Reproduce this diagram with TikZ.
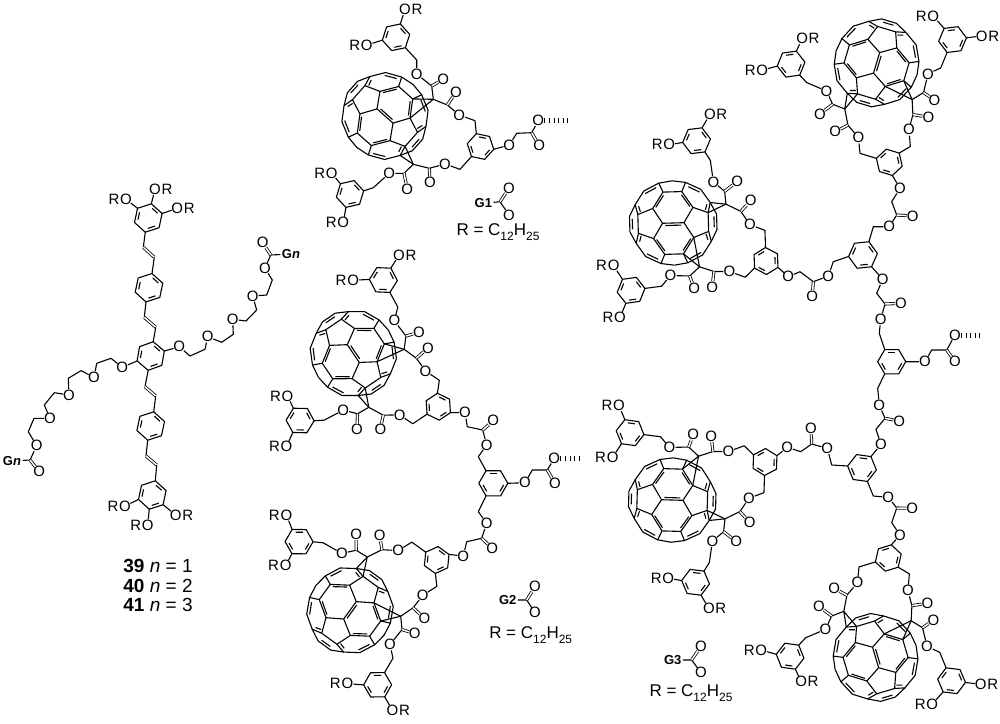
\documentclass[tikz,border=0pt]{standalone}
\usepackage{fontspec}
\setmainfont{Liberation Sans}
\usetikzlibrary{positioning}
\tikzset{
	atom/.style={circle, inner sep=-1.7pt, font=\fontsize{15}{15}\selectfont},
	rlab/.style={inner sep=0pt, font=\fontsize{15}{15}\selectfont},
	dbond/.style={double, double distance=1.5pt, line width=.8pt},
	hashb/.style={line width=5pt, line cap=butt, dash pattern=on 1pt off 3.6pt},
	glab/.style={inner sep=1pt, font=\bfseries\fontsize{13}{13}\selectfont},
	rtxt/.style={inner sep=0pt, font=\fontsize{17}{17}\selectfont},
	numlab/.style={inner sep=0pt, font=\fontsize{19}{19}\selectfont}
}
\newcommand{\rchain}{R = C\raisebox{-.3em}{\fontsize{12}{12}\selectfont 12}H\raisebox{-.3em}{\fontsize{12}{12}\selectfont 25}}
% ring: name, x, y, phase, radius
\newcommand{\bzring}[5]{
	\begin{scope}[shift={(#2,#3)}]
		\foreach \k in {0,...,5} \coordinate (#1\k) at ({#4+60*\k}:#5);
		\draw (#10) -- (#11) -- (#12) -- (#13) -- (#14) -- (#15) -- cycle;
		\foreach \k in {0,2,4} \draw ({#4+60*\k+9}:{#5*.72}) -- ({#4+60*\k+51}:{#5*.72});
	\end{scope}
}
% fullerene: x, y, rotation
\newcommand{\cball}[3]{
	\begin{scope}[shift={(#1,#2)},rotate=#3,scale=.335]
		\foreach \sx in {1,-1} \foreach \sy in {1,-1} {
			\begin{scope}[xscale=\sx,yscale=\sy]
				\draw (32,0) -- (60,45) -- (28,93) -- (40,120) -- (0,126);
				\draw (28,93) -- (0,93);
				\draw (60,45) -- (105,28) -- (112,58) -- (85,98) -- (40,120);
				\draw (105,28) -- (105,0);
				\draw (112,58) -- (130,23) -- (130,0);
				\draw (51,48) -- (27,83);
				\draw (81,90) -- (48,107);
				\draw (97,36) -- (102,53);
				\draw (122,0) -- (122,16);
			\end{scope}
		}
		\draw (-32,0) -- (32,0);
		\draw (-24,-7) -- (24,-7);
		\coordinate (va) at (60,-45);
		\coordinate (vb) at (28,-93);
		\coordinate (vc) at (105,28);
		\coordinate (vd) at (112,58);
	\end{scope}
}
% first generation unit: name, x, y, rotation, flip, sides of the four R
\newcommand{\dendron}[9]{
	\begin{scope}[name prefix=#1-, shift={(#2,#3)}, rotate=#4, yscale=#5, shift={(-480.5,-146.5)}]
		\cball{385}{116}{-41.6}
		\bzring{rc}{480.5}{146.5}{12}{13.5}
		\bzring{rt}{396}{37.3}{48}{14}
		\bzring{rb}{350}{194}{47}{14}
		\node[atom] (oa) at (405,9.3) {O};
		\node[atom] (ob) at (366.7,45) {O};
		\node[atom] (oc) at (331.7,173.3) {O};
		\node[atom] (od) at (343.3,222.7) {O};
		\node[atom] (ea) at (416.7,74) {O};
		\node[atom] (eb) at (459.3,115) {O};
		\node[atom] (ec) at (445,164) {O};
		\node[atom] (ed) at (389.3,173.3) {O};
		\node[atom] (da) at (443.3,79.3) {O};
		\node[atom] (db) at (456,92) {O};
		\node[atom] (dc) at (430,182.7) {O};
		\node[atom] (dd) at (407.3,189) {O};
		\coordinate (ca) at (431.7,86);
		\coordinate (cb) at (447.3,105);
		\coordinate (cc) at (429.3,168.3);
		\coordinate (cd) at (404,173.3);
		\coordinate (ada) at (433.3,99.3);
		\coordinate (adb) at (413.3,164.3);
		\draw (rt4) -- (oa);
		\draw (rt2) -- (ob);
		\draw (rb3) -- (oc);
		\draw (rb1) -- (od);
		\draw (rt0) -- (416.7,60) -- (ea) -- (ca) -- (ada) -- (cb) -- (eb) -- (475,120.7) -- (rc4);
		\draw (rc2) -- (460,169.3) -- (ec) -- (cc) -- (adb) -- (cd) -- (ed) -- (373.3,187.7) -- (rb5);
		\draw[dbond] (ca) -- (da);
		\draw[dbond] (cb) -- (db);
		\draw[dbond] (cc) -- (dc);
		\draw[dbond] (cd) -- (dd);
		\draw (ada) -- (va);
		\draw (ada) -- (vb);
		\draw (adb) -- (vc);
		\draw (adb) -- (vd);
	\end{scope}
	\node[rlab, #6=0pt of #1-oa] (#1-ra) {R};
	\node[rlab, #7=0pt of #1-ob] (#1-rb) {R};
	\node[rlab, #8=0pt of #1-oc] (#1-rc) {R};
	\node[rlab, #9=0pt of #1-od] (#1-rd) {R};
}
\begin{document}
\begin{tikzpicture}[x=1pt, y=-1pt, line width=1.1pt, line join=round]
	\useasboundingbox (0,0) rectangle (1000,723);

	%%% left compound
	\bzring{la}{148.3}{218}{42}{14.5}
	\bzring{lb}{149}{287.7}{42}{14.5}
	\bzring{lc}{150.7}{356}{40}{14.5}
	\bzring{ld}{150.7}{426}{42}{14.5}
	\bzring{le}{152.3}{495}{42}{14.5}
	\node[atom] (laa) at (155,189.3) {O};
	\node[rlab, right=0pt of laa] (lar) {R};
	\node[atom] (lab) at (177.3,208.3) {O};
	\node[rlab, right=0pt of lab] (lbr) {R};
	\node[atom] (lac) at (126,199.3) {O};
	\node[rlab, left=0pt of lac] (lcr) {R};
	\node[atom] (lea) at (175.7,515) {O};
	\node[rlab, right=0pt of lea] (ler) {R};
	\node[atom] (leb) at (147.7,525) {O};
	\node[rlab, left=0pt of leb] (lfr) {R};
	\node[atom] (lec) at (125,506) {O};
	\node[rlab, left=0pt of lec] (lgr) {R};
	\draw (la4) -- (laa);
	\draw (la5) -- (lab);
	\draw (la3) -- (lac);
	\draw (le0) -- (lea);
	\draw (le1) -- (leb);
	\draw (le2) -- (lec);
	\coordinate (va) at (143.3,247.3);
	\coordinate (vb) at (154.3,257.3);
	\coordinate (vc) at (144.3,317.3);
	\coordinate (vd) at (155.7,327.3);
	\coordinate (ve) at (145,386.7);
	\coordinate (vf) at (155.7,396);
	\coordinate (vg) at (146,456);
	\coordinate (vh) at (156.7,465);
	\draw (la1) -- (va);
	\draw[dbond] (va) -- (vb);
	\draw (vb) -- (lb4);
	\draw (lb1) -- (vc);
	\draw[dbond] (vc) -- (vd);
	\draw (vd) -- (lc4);
	\draw (lc1) -- (ve);
	\draw[dbond] (ve) -- (vf);
	\draw (vf) -- (ld4);
	\draw (ld1) -- (vg);
	\draw[dbond] (vg) -- (vh);
	\draw (vh) -- (le4);
	% right arm
	\node[atom] (ra) at (179.3,346.7) {O};
	\node[atom] (rb) at (207.7,336.7) {O};
	\node[atom] (rc) at (232.7,319.3) {O};
	\node[atom] (rd) at (252.7,296) {O};
	\node[atom] (re) at (265,268.3) {O};
	\node[atom] (rf) at (262.7,242.7) {O};
	\node[glab] (gnr) at (291,254) {G\textit{n}};
	\coordinate (rc1) at (270.7,255);
	\draw (lc5) -- (ra) -- (190,356) -- (205,349.3) -- (rb) -- (221.7,342.3) -- (233.3,334.3) -- (rc) -- (246,321) -- (256.7,310) -- (rd) -- (266.7,295) -- (272.3,280) -- (re) -- (rc1) -- (gnr);
	\draw[dbond] (rc1) -- (rf);
	% left arm
	\node[atom] (sa) at (122.3,367.3) {O};
	\node[atom] (sb) at (94,377.3) {O};
	\node[atom] (sc) at (69,395) {O};
	\node[atom] (sd) at (50,418.3) {O};
	\node[atom] (se) at (36.7,445.7) {O};
	\node[atom] (sf) at (39.3,471.7) {O};
	\node[glab] (gnl) at (12,461) {G\textit{n}};
	\coordinate (sc1) at (30,460);
	\draw (lc2) -- (sa) -- (111,358.3) -- (96.7,363.3) -- (sb) -- (81,370.7) -- (68.3,378.3) -- (sc) -- (54.3,392.7) -- (44.3,405) -- (sd) -- (34,418.3) -- (28.3,431.7) -- (se) -- (sc1) -- (gnl);
	\draw[dbond] (sc1) -- (sf);
	\node[numlab] (n39) at (158,566) {\textbf{39} \textit{n} = 1};
	\node[numlab] (n40) at (158,585.5) {\textbf{40} \textit{n} = 2};
	\node[numlab] (n41) at (158,605) {\textbf{41} \textit{n} = 3};

	%%% G1
	\dendron{ga}{480.5}{146.5}{0}{1}{right}{left}{left}{left}
	\node[atom] (gao) at (509.3,145) {O};
	\node[atom] (gad) at (539.3,145.7) {O};
	\node[atom] (gae) at (538.3,120.7) {O};
	\coordinate (gac) at (531.7,132.7);
	\coordinate (gaf) at (568,120.7);
	\draw (ga-rc0) -- (gao) -- (516.7,133.3) -- (gac) -- (gae);
	\draw[dbond] (gac) -- (gad);
	\draw[hashb] (gae) -- (gaf);
	\node[glab] (lga) at (483.3,203.3) {G1};
	\node[atom] (lgb) at (509,188.3) {O};
	\node[atom] (lgc) at (509,215) {O};
	\coordinate (lgd) at (500,201.7);
	\draw (lga) -- (lgd) -- (lgc);
	\draw[dbond] (lgd) -- (lgb);
	\node[rtxt] (rga) at (498,232) {\rchain};

	%%% G2
	\dendron{gb}{438.3}{406.7}{-14.3}{1}{right}{left}{left}{left}
	\dendron{gc}{436.7}{560}{12.4}{-1}{right}{left}{left}{left}
	\bzring{hb}{493.3}{483.3}{0}{14.5}
	\node[atom] (gbo) at (465,412.7) {O};
	\node[atom] (gbe) at (486.7,445) {O};
	\node[atom] (gbd) at (493.3,420.7) {O};
	\coordinate (gbc) at (482.7,430);
	\draw (gb-rc0) -- (gbo) -- (467.3,426.7) -- (gbc) -- (gbe) -- (478.3,456.7) -- (hb4);
	\draw[dbond] (gbc) -- (gbd);
	\node[atom] (gco) at (463.3,556) {O};
	\node[atom] (gce) at (486.7,523.3) {O};
	\node[atom] (gcd) at (492.3,548.3) {O};
	\coordinate (gcc) at (481.7,538.3);
	\draw (gc-rc0) -- (gco) -- (466.7,541.7) -- (gcc) -- (gce) -- (478.3,511.7) -- (hb2);
	\draw[dbond] (gcc) -- (gcd);
	\node[atom] (hbo) at (525,482.7) {O};
	\node[atom] (hbe) at (554.3,458.3) {O};
	\node[atom] (hbd) at (555,483.3) {O};
	\coordinate (hbc) at (547.3,470);
	\coordinate (hbf) at (579.3,458.3);
	\draw (hb0) -- (hbo) -- (532.3,470) -- (hbc) -- (hbe);
	\draw[dbond] (hbc) -- (hbd);
	\draw[hashb] (hbe) -- (hbf);
	\node[glab] (lha) at (507.7,600) {G2};
	\node[atom] (lhb) at (535,586.7) {O};
	\node[atom] (lhc) at (535,612.7) {O};
	\coordinate (lhd) at (526.7,600);
	\draw (lha) -- (lhd) -- (lhc);
	\draw[dbond] (lhd) -- (lhb);
	\node[rtxt] (rgb) at (530.7,635) {\rchain};

	%%% G3
	\dendron{gd}{766}{261}{-40}{-1}{left}{left}{left}{right}
	\dendron{ge}{765}{462}{40}{1}{left}{left}{left}{right}
	\dendron{gf}{889.3}{162.3}{-65}{1}{right}{left}{right}{left}
	\dendron{gg}{888.3}{558}{65}{-1}{right}{left}{right}{left}
	\bzring{ha}{863}{255}{54}{14.5}
	\bzring{hc}{891.7}{361.7}{0}{14}
	\bzring{hd}{862}{468}{8}{14.5}
	% upper branch
	\node[atom] (gfo) at (900,188.3) {O};
	\node[atom] (gfe) at (889.3,226.7) {O};
	\node[atom] (gfd) at (912.7,216) {O};
	\coordinate (gfc) at (896.7,215);
	\draw (gf-rc0) -- (gfo) -- (891.7,201.7) -- (gfc) -- (gfe) -- (873.3,226.7) -- (ha4);
	\draw[dbond] (gfc) -- (gfd);
	\node[atom] (gdo) at (788.3,276.7) {O};
	\node[atom] (gde) at (828.3,276) {O};
	\node[atom] (gdd) at (812.3,296) {O};
	\coordinate (gdc) at (813.3,281.7);
	\draw (gd-rc0) -- (gdo) -- (800,271.7) -- (gdc) -- (gde) -- (833.3,261.7) -- (ha2);
	\draw[dbond] (gdc) -- (gdd);
	\node[atom] (hao) at (882.7,279.3) {O};
	\node[atom] (hae) at (880.7,319.3) {O};
	\node[atom] (had) at (901,303.3) {O};
	\coordinate (hac) at (885,304);
	\draw (ha0) -- (hao) -- (876.7,293.3) -- (hac) -- (hae) -- (879.3,333.3) -- (hc4);
	\draw[dbond] (hac) -- (had);
	% middle ring
	\node[atom] (hco) at (925,361.7) {O};
	\node[atom] (hce) at (955,335) {O};
	\node[atom] (hcd) at (955,361.7) {O};
	\coordinate (hcc) at (946.7,350);
	\coordinate (hcf) at (981.7,335);
	\draw (hc0) -- (hco) -- (931.7,350) -- (hcc) -- (hce);
	\draw[dbond] (hcc) -- (hcd);
	\draw[hashb] (hce) -- (hcf);
	% lower branch
	\node[atom] (hch) at (879.3,405) {O};
	\node[atom] (hci) at (881,444.3) {O};
	\node[atom] (hcj) at (899.3,421) {O};
	\coordinate (hck) at (885,418.3);
	\draw (hc2) -- (877.7,388.3) -- (hch) -- (hck) -- (876,429.3) -- (hci) -- (hd5);
	\draw[dbond] (hck) -- (hcj);
	\node[atom] (geo) at (787.3,447.3) {O};
	\node[atom] (gee) at (827.3,448.3) {O};
	\node[atom] (ged) at (811,428.3) {O};
	\coordinate (gec) at (811.7,444);
	\draw (ge-rc0) -- (geo) -- (800.7,451.7) -- (gec) -- (gee) -- (831.7,465) -- (hd3);
	\draw[dbond] (gec) -- (ged);
	\node[atom] (hde) at (888.3,497.3) {O};
	\node[atom] (hdo) at (900,535) {O};
	\node[atom] (hdd) at (912.3,508.3) {O};
	\coordinate (hdc) at (896.7,508);
	\draw (hd1) -- (873.3,496) -- (hde) -- (hdc) -- (891.7,522.7) -- (hdo) -- (gg-rc0);
	\draw[dbond] (hdc) -- (hdd);
	\node[glab] (lia) at (672.7,660) {G3};
	\node[atom] (lib) at (701,646) {O};
	\node[atom] (lic) at (701,672.7) {O};
	\coordinate (lid) at (691.7,660);
	\draw (lia) -- (lid) -- (lic);
	\draw[dbond] (lid) -- (lib);
	\node[rtxt] (rgc) at (691,693.3) {\rchain};
\end{tikzpicture}
\end{document}
